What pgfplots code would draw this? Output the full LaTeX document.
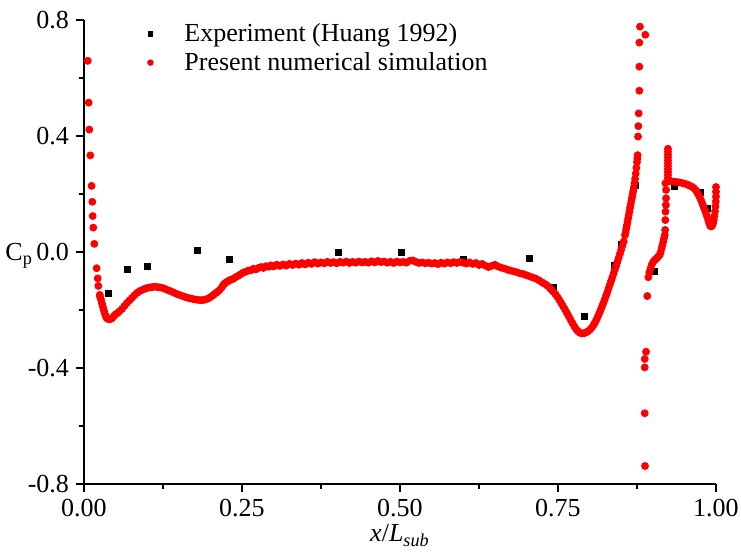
\documentclass[border=0pt]{standalone}
\usepackage{fontspec}
\setmainfont{Liberation Serif}
\usepackage{pgfplots}
\pgfplotsset{compat=1.18}

\definecolor{simred}{RGB}{255,0,0}

\begin{document}
\begin{tikzpicture}
% page frame: the axis box is 316pt x 232pt with its lower left corner at the origin
\useasboundingbox (-42pt,-35.5pt) rectangle (328.5pt,242pt);
\begin{axis}[
  name=cp,
  at={(0pt,0pt)}, anchor=south west,
  scale only axis,
  width=316pt, height=232pt,
  xmin=0, xmax=1, ymin=-0.8, ymax=0.8,
  axis x line=bottom, axis y line=left,
  x axis line style={-, line width=0.9pt},
  y axis line style={-, line width=0.9pt},
  tick align=outside,
  major tick length=4pt, minor tick length=2.4pt,
  every tick/.style={black, line width=0.8pt},
  xtick={0,0.25,0.5,0.75,1},
  xticklabels={0.00,0.25,0.50,0.75,1.00},
  minor x tick num=1,
  ytick={-0.8,-0.4,0,0.4,0.8},
  yticklabels={-0.8,-0.4,0.0,0.4,0.8},
  minor y tick num=1,
  font=\fontsize{13}{15.6}\selectfont,
  xlabel={\textit{x}/\textit{L}\textsubscript{\textit{sub}}},
  xlabel style={at={(axis description cs:0.5,0)}, anchor=base, yshift=-29pt},
  ylabel={C\textsubscript{p}},
  ylabel style={rotate=-90, at={(axis description cs:0,0.5)}, anchor=base east,
    xshift=-22pt, yshift=-4.4pt},
  legend cell align=left,
  legend image code/.code={%
    \path[draw=none, fill=none] (0pt,-2pt) rectangle (19pt,2pt);
    \draw[#1, every mark/.append style={scale=0.8}, mark repeat=2, mark phase=2]
      plot coordinates {(0pt,0pt) (4pt,0pt) (8pt,0pt)};},
  legend style={draw=none, fill=none, at={(0.0823,1.0115)}, anchor=north west,
    font=\fontsize{13}{15.6}\selectfont, row sep=0pt},
]
% experimental data (Huang 1992)
\addplot[only marks, mark=square*, mark size=1.5pt, black] coordinates {
(0.038,-0.142) (0.069,-0.061) (0.101,-0.049) (0.180,0.006) (0.230,-0.025)
(0.402,-0.001) (0.502,0.000) (0.601,-0.024) (0.704,-0.023) (0.742,-0.122)
(0.791,-0.222) (0.840,-0.045) (0.851,0.027) (0.872,0.229) (0.902,-0.067)
(0.934,0.225) (0.975,0.206) (0.987,0.151)
};
\addlegendentry{Experiment (Huang 1992)}
% present numerical simulation
\addplot[only marks, mark=*, mark size=1.75pt, simred, mark options={draw=simred, fill=simred}] coordinates {
(0.0052,0.802) (0.0060,0.659) (0.0074,0.515) (0.0084,0.422) (0.0100,0.333)
(0.0120,0.228) (0.0132,0.173) (0.0137,0.124) (0.0147,0.084) (0.0163,0.028)
(0.0200,-0.056) (0.0217,-0.091) (0.0227,-0.117) (0.0250,-0.148)
(0.0255,-0.155) (0.0270,-0.165) (0.0285,-0.178) (0.0300,-0.190) (0.0315,-0.202)
(0.0330,-0.213) (0.0345,-0.222) (0.0360,-0.228) (0.0380,-0.231) (0.0400,-0.232)
(0.042,-0.231) (0.044,-0.229) (0.047,-0.222) (0.050,-0.215) (0.053,-0.211)
(0.056,-0.205) (0.060,-0.197) (0.064,-0.186) (0.068,-0.176) (0.072,-0.167)
(0.076,-0.158) (0.080,-0.149) (0.084,-0.141) (0.088,-0.135) (0.092,-0.131)
(0.096,-0.127) (0.100,-0.124) (0.104,-0.122) (0.108,-0.121) (0.112,-0.120)
(0.116,-0.121) (0.120,-0.122) (0.124,-0.124) (0.128,-0.127) (0.132,-0.131)
(0.136,-0.134) (0.140,-0.138) (0.144,-0.142) (0.148,-0.146) (0.152,-0.149)
(0.156,-0.152) (0.160,-0.155) (0.164,-0.158) (0.168,-0.160) (0.172,-0.162)
(0.176,-0.164) (0.180,-0.165) (0.184,-0.166) (0.188,-0.166) (0.192,-0.164)
(0.196,-0.161) (0.200,-0.156) (0.203,-0.151) (0.206,-0.146) (0.209,-0.141)
(0.212,-0.136) (0.215,-0.130) (0.218,-0.122) (0.220,-0.115) (0.222,-0.110)
(0.224,-0.106) (0.227,-0.102) (0.230,-0.098) (0.233,-0.095) (0.236,-0.093)
(0.240,-0.087) (0.244,-0.082) (0.248,-0.077) (0.252,-0.071) (0.256,-0.068)
(0.260,-0.064) (0.264,-0.063) (0.268,-0.058) (0.272,-0.060) (0.276,-0.055)
(0.280,-0.052) (0.284,-0.055) (0.288,-0.049) (0.292,-0.051) (0.296,-0.046)
(0.300,-0.050) (0.305,-0.044) (0.310,-0.048) (0.315,-0.043) (0.320,-0.047)
(0.325,-0.041) (0.330,-0.045) (0.335,-0.040) (0.340,-0.044) (0.345,-0.038)
(0.350,-0.043) (0.355,-0.037) (0.360,-0.041) (0.365,-0.035) (0.370,-0.040)
(0.375,-0.036) (0.380,-0.039) (0.385,-0.034) (0.390,-0.038) (0.395,-0.035)
(0.400,-0.039) (0.405,-0.034) (0.410,-0.037) (0.415,-0.033) (0.420,-0.038)
(0.425,-0.034) (0.430,-0.037) (0.435,-0.033) (0.440,-0.036) (0.445,-0.034)
(0.450,-0.037) (0.455,-0.032) (0.460,-0.036) (0.465,-0.031) (0.470,-0.035)
(0.475,-0.033) (0.480,-0.037) (0.485,-0.034) (0.490,-0.038) (0.495,-0.033)
(0.500,-0.036) (0.505,-0.034) (0.510,-0.037) (0.515,-0.031) (0.520,-0.029)
(0.525,-0.034) (0.530,-0.038) (0.535,-0.036) (0.540,-0.039) (0.545,-0.037)
(0.550,-0.040) (0.555,-0.038) (0.560,-0.042) (0.565,-0.037) (0.570,-0.040)
(0.575,-0.036) (0.580,-0.039) (0.585,-0.035) (0.590,-0.038) (0.595,-0.034)
(0.600,-0.037) (0.605,-0.040) (0.610,-0.036) (0.615,-0.041) (0.620,-0.038)
(0.625,-0.045) (0.630,-0.041) (0.635,-0.047) (0.640,-0.052) (0.645,-0.048)
(0.650,-0.044) (0.655,-0.050) (0.660,-0.054) (0.665,-0.057) (0.670,-0.061)
(0.675,-0.064) (0.680,-0.067) (0.685,-0.070) (0.690,-0.074) (0.695,-0.076)
(0.700,-0.080) (0.705,-0.084) (0.710,-0.088) (0.715,-0.092) (0.720,-0.098)
(0.725,-0.105) (0.729,-0.110) (0.733,-0.116) (0.737,-0.124) (0.740,-0.131)
(0.743,-0.138) (0.746,-0.146) (0.749,-0.155) (0.752,-0.165) (0.755,-0.176)
(0.758,-0.187) (0.761,-0.198) (0.764,-0.210) (0.767,-0.222) (0.770,-0.234)
(0.773,-0.246) (0.776,-0.257) (0.779,-0.267) (0.782,-0.274) (0.785,-0.279)
(0.788,-0.281) (0.791,-0.280) (0.794,-0.278) (0.797,-0.274) (0.800,-0.269)
(0.803,-0.262) (0.806,-0.253) (0.808,-0.245) (0.810,-0.237) (0.812,-0.228)
(0.814,-0.218) (0.816,-0.208) (0.818,-0.197) (0.820,-0.186) (0.822,-0.175)
(0.824,-0.163) (0.826,-0.151) (0.828,-0.139) (0.830,-0.126) (0.832,-0.113)
(0.834,-0.100) (0.836,-0.087) (0.838,-0.074) (0.840,-0.061) (0.842,-0.048)
(0.844,-0.034) (0.846,-0.020) (0.848,-0.006) (0.850,0.008) (0.852,0.022)
(0.854,0.036) (0.856,0.058) (0.857,0.068) (0.858,0.080) (0.859,0.092)
(0.860,0.104) (0.861,0.116) (0.862,0.128) (0.863,0.140) (0.864,0.152)
(0.865,0.163) (0.866,0.175) (0.867,0.187) (0.868,0.198) (0.869,0.210)
(0.870,0.222) (0.871,0.237) (0.872,0.252) (0.873,0.270) (0.874,0.290)
(0.875,0.310) (0.8755,0.322) (0.8760,0.334)
(0.8766,0.398) (0.8771,0.434) (0.8777,0.478) (0.8787,0.556) (0.8787,0.639)
(0.8787,0.722) (0.8797,0.777) (0.8882,0.749)
(0.8877,-0.738) (0.8872,-0.556) (0.8872,-0.398) (0.8872,-0.369) (0.8893,-0.344)
(0.8913,-0.152)
(0.8930,-0.087) (0.8945,-0.070) (0.8966,-0.056) (0.8985,-0.043) (0.9010,-0.033)
(0.9035,-0.027) (0.9060,-0.022) (0.9085,-0.016) (0.9110,-0.010) (0.9125,0.000)
(0.9140,0.013) (0.9153,0.024) (0.9166,0.036) (0.9178,0.048) (0.9190,0.059)
(0.9195,0.076) (0.9198,0.110) (0.9201,0.139) (0.9207,0.162) (0.9210,0.185)
(0.9210,0.214) (0.9200,0.237)
(0.9240,0.246) (0.9240,0.256) (0.9240,0.266) (0.9240,0.276) (0.9240,0.286)
(0.9240,0.296) (0.9240,0.306) (0.9240,0.316) (0.9240,0.326) (0.9240,0.336)
(0.9240,0.346) (0.9240,0.356)
(0.9265,0.244) (0.930,0.243) (0.934,0.242) (0.938,0.241) (0.942,0.240)
(0.946,0.238) (0.950,0.236) (0.954,0.233) (0.958,0.229) (0.962,0.225)
(0.965,0.220) (0.968,0.213) (0.970,0.206) (0.972,0.199) (0.974,0.190)
(0.976,0.180) (0.978,0.169) (0.980,0.158) (0.982,0.146) (0.984,0.134)
(0.986,0.121) (0.988,0.108) (0.9895,0.097) (0.991,0.090) (0.9925,0.088)
(0.994,0.091) (0.9955,0.099) (0.9965,0.110) (0.9975,0.124) (0.9985,0.140)
(0.9992,0.157) (0.9997,0.174) (1.000,0.191) (1.000,0.208) (1.000,0.224)
};
\addlegendentry{Present numerical simulation}
\end{axis}
\end{tikzpicture}
\end{document}
